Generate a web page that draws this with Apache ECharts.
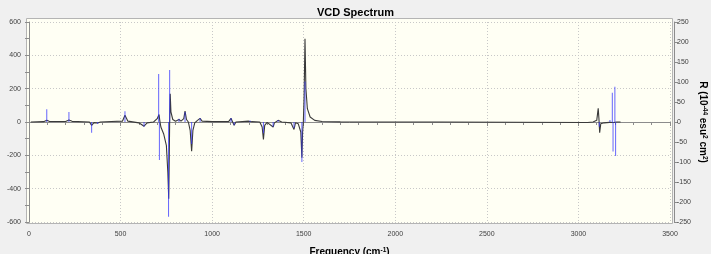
<!DOCTYPE html>
<html>
<head>
<meta charset="utf-8">
<script src="https://cdn.jsdelivr.net/npm/echarts@6/dist/echarts.min.js"></script>
<style>
html,body{margin:0;padding:0;background:#f0f0f0;}
#chart{width:711px;height:254px;}
</style>
</head>
<body>
<div id="chart"></div>
<script>
// Broadened VCD spectrum (black line): [frequency cm^-1, value on left axis]
const spectrumFreq = [10,80,97,110,200,218,235,330,342,355,375,390,450,510,524,540,600,628,645,680,700,710,714,720,735,750,758,763,766,768,771,775,785,800,819,830,845,852,860,870,880,888,895,905,920,934,945,1000,1090,1103,1110,1120,1130,1200,1207,1215,1260,1273,1280,1287,1300,1333,1340,1360,1380,1430,1447,1455,1470,1484,1490,1494,1498,1502,1507,1512,1520,1535,1560,1600,1700,2240,2250,3050,3080,3100,3108,3112,3116,3122,3140,3170,3180,3190,3200,3210,3230];
const spectrumValue = [0,2,10,4,3,12,4,0,-20,-4,-6,0,3,5,40,5,-5,-25,-5,0,20,45,10,-30,-70,-140,-300,-460,-200,0,170,60,15,5,15,5,20,65,15,0,-50,-175,-50,-5,10,22,5,2,2,22,5,-20,0,5,8,2,0,-30,-105,-20,-2,-30,-5,10,0,-5,-45,-5,-10,-60,-215,-60,0,150,500,200,80,30,10,3,1,0,-3,-3,0,10,82,20,-64,-10,-5,-2,5,-3,5,0,0];

// Rotational strengths (blue sticks): frequency and R (right axis)
const stickFreq = [97,218,342,375,524,628,708,712,762,768,819,852,888,934,1103,1120,1207,1280,1333,1360,1447,1490,1507,3114,3172,3185,3189,3199,3203];
const stickR    = [32,25,-27,-5,27,-12,120,-95,-237,130,8,25,-55,10,10,-8,4,-28,-12,5,-15,-100,101,-12,5,73,-74,88,-85];

// Axis ticks
const xTicks = {min: 0, max: 3500, interval: 500};
const leftTicks = {min: -600, max: 600, interval: 200};
const rightTicks = {min: -250, max: 250, interval: 50};

const chart = echarts.init(document.getElementById('chart'), null, {renderer: 'canvas'});
const lineData = spectrumFreq.map((f, i) => [f, spectrumValue[i]]);
const stickData = stickFreq.map((f, i) => [f, stickR[i]]);

const axisColor = '#8c8c8c';
const labelStyle = {fontSize: 7, color: '#404040', fontFamily: 'Liberation Sans', formatter: v => String(v)};
const gridLine = {show: true, lineStyle: {color: '#c8c8c8', type: [1, 2], width: 1}};

chart.setOption({
  backgroundColor: '#f0f0f0',
  animation: false,
  title: {
    text: 'VCD Spectrum',
    left: 'center',
    top: 2,
    textStyle: {fontSize: 11, fontWeight: 'bold', color: '#000', fontFamily: 'Liberation Sans'}
  },
  graphic: [{
    type: 'rect',
    z: -10,
    shape: {x: 26.5, y: 18.5, width: 646, height: 205},
    style: {fill: '#fffff4', stroke: '#b4b4b4', lineWidth: 1}
  }],
  grid: {left: 29, right: 41, top: 22, bottom: 32, outerBoundsMode: 'none', containLabel: false},
  xAxis: {
    type: 'value',
    min: xTicks.min, max: xTicks.max, interval: xTicks.interval,
    offset: 4,
    name: 'Frequency (cm{sup|-1})',
    nameLocation: 'middle',
    nameGap: 21,
    nameMoveOverlap: false,
    nameTextStyle: {fontSize: 10, fontWeight: 'bold', color: '#000', fontFamily: 'Liberation Sans',
      rich: {sup: {fontSize: 6.5, fontWeight: 'bold', verticalAlign: 'top', lineHeight: 8}}},
    axisLine: {show: true, lineStyle: {color: axisColor}},
    axisTick: {show: true, length: 4, lineStyle: {color: axisColor}},
    minorTick: {show: true, splitNumber: 5, length: 3, lineStyle: {color: axisColor}},
    axisLabel: Object.assign({margin: 5}, labelStyle),
    splitLine: gridLine
  },
  yAxis: [{
    type: 'value',
    position: 'left',
    min: leftTicks.min, max: leftTicks.max, interval: leftTicks.interval,
    offset: 4,
    axisLine: {show: true, lineStyle: {color: axisColor}},
    axisTick: {show: true, length: 4, lineStyle: {color: axisColor}},
    minorTick: {show: true, splitNumber: 2, length: 4, lineStyle: {color: axisColor}},
    axisLabel: Object.assign({margin: 4}, labelStyle),
    splitLine: gridLine
  }, {
    type: 'value',
    position: 'right',
    min: rightTicks.min, max: rightTicks.max, interval: rightTicks.interval,
    offset: 4,
    name: 'R (10{sup|-44} esu{sup|2} cm{sup|2})',
    nameLocation: 'middle',
    nameRotate: -90,
    nameGap: 24,
    nameMoveOverlap: false,
    nameTextStyle: {fontSize: 10, fontWeight: 'bold', color: '#000', fontFamily: 'Liberation Sans',
      rich: {sup: {fontSize: 6.5, fontWeight: 'bold', verticalAlign: 'top', lineHeight: 8}}},
    axisLine: {show: true, lineStyle: {color: axisColor}},
    axisTick: {show: true, length: 4, lineStyle: {color: axisColor}},
    axisLabel: Object.assign({margin: 3}, labelStyle),
    splitLine: {show: false}
  }],
  series: [{
    type: 'line',
    data: lineData,
    yAxisIndex: 0,
    showSymbol: false,
    symbol: 'none',
    lineStyle: {color: '#3a3a3a', width: 1.1},
    z: 2
  }, {
    type: 'bar',
    data: stickData,
    yAxisIndex: 1,
    barWidth: 1,
    itemStyle: {color: 'rgba(50,50,255,0.75)'},
    z: 3
  }]
});
</script>
</body>
</html>
